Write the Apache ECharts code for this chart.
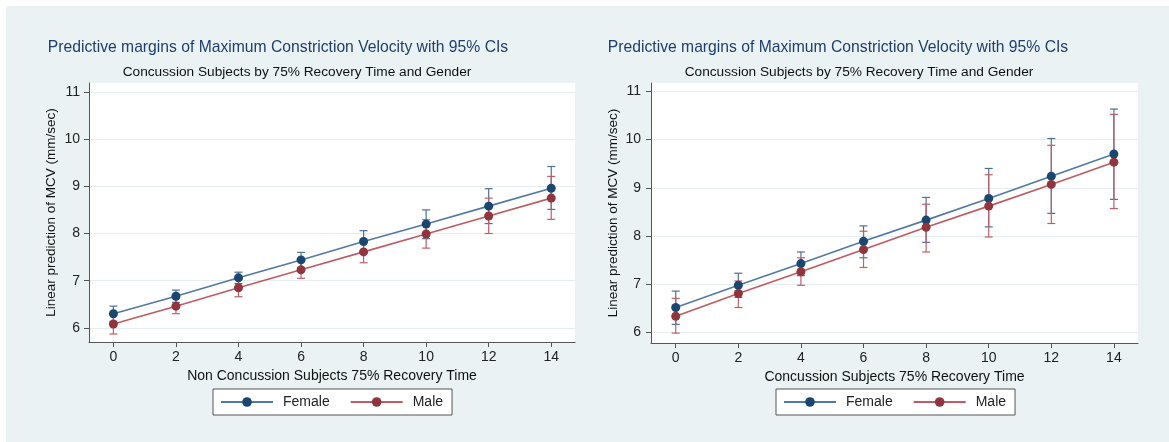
<!DOCTYPE html>
<html>
<head>
<meta charset="utf-8">
<script src="https://cdn.jsdelivr.net/npm/echarts@6/dist/echarts.min.js"></script>
<style>
  html, body { margin: 0; padding: 0; background: #fff; }
  #bg { position: absolute; left: 6px; top: 6px; width: 1163px; height: 436px; background: #eaf2f3; }
  #chart { position: absolute; left: 0; top: 0; width: 1169px; height: 442px; }
</style>
</head>
<body>
<div id="bg"></div>
<div id="chart"></div>
<script>
// recovery time (x) and tick labels
var recoveryTime = [0, 2, 4, 6, 8, 10, 12, 14];
var xTicks = [0, 2, 4, 6, 8, 10, 12, 14];
var yTicks = [6, 7, 8, 9, 10, 11];

// left panel: non concussion subjects
var nonConcFemale   = [6.30, 6.67, 7.06, 7.44, 7.83, 8.20, 8.58, 8.96];
var nonConcFemaleLo = [6.14, 6.54, 6.94, 7.28, 7.60, 7.89, 8.21, 8.51];
var nonConcFemaleHi = [6.46, 6.80, 7.18, 7.60, 8.06, 8.50, 8.95, 9.42];
var nonConcMale     = [6.08, 6.46, 6.85, 7.23, 7.61, 7.99, 8.37, 8.75];
var nonConcMaleLo   = [5.87, 6.30, 6.66, 7.05, 7.38, 7.69, 8.00, 8.30];
var nonConcMaleHi   = [6.29, 6.62, 7.03, 7.41, 7.84, 8.29, 8.75, 9.21];

// right panel: concussion subjects
var concFemale   = [6.52, 6.98, 7.43, 7.89, 8.33, 8.78, 9.24, 9.70];
var concFemaleLo = [6.17, 6.73, 7.18, 7.55, 7.87, 8.19, 8.47, 8.76];
var concFemaleHi = [6.86, 7.23, 7.67, 8.21, 8.80, 9.40, 10.02, 10.63];
var concMale     = [6.34, 6.81, 7.26, 7.72, 8.18, 8.62, 9.07, 9.53];
var concMaleLo   = [5.99, 6.52, 6.98, 7.35, 7.67, 7.98, 8.26, 8.57];
var concMaleHi   = [6.71, 7.07, 7.55, 8.10, 8.66, 9.27, 9.88, 10.52];

var FONT = "'Liberation Sans', Arial, sans-serif";
var navy = "#1a476f", maroon = "#90353b";

function pairs(ys) {
  return recoveryTime.map(function (x, i) { return [x, ys[i]]; });
}
function ciData(lo, hi) {
  return recoveryTime.map(function (x, i) { return [x, lo[i], hi[i]]; });
}

function errorBar(params, api) {
  var x = api.value(0);
  var lo = api.coord([x, api.value(1)]);
  var hi = api.coord([x, api.value(2)]);
  var w = 4;
  var style = { stroke: api.visual("color"), lineWidth: 1.2 };
  return {
    type: "group",
    children: [
      { type: "line", shape: { x1: lo[0], y1: lo[1], x2: hi[0], y2: hi[1] }, style: style },
      { type: "line", shape: { x1: lo[0] - w, y1: lo[1], x2: lo[0] + w, y2: lo[1] }, style: style },
      { type: "line", shape: { x1: hi[0] - w, y1: hi[1], x2: hi[0] + w, y2: hi[1] }, style: style }
    ]
  };
}

function xAxis(idx, min, max, name, gap) {
  return {
    type: "value", gridIndex: idx, min: min, max: max,
    name: name, nameLocation: "middle", nameGap: gap,
    nameTextStyle: { fontFamily: FONT, fontSize: 14, color: "#111" },
    axisLine: { show: true, onZero: false, lineStyle: { color: "#555", width: 1 } },
    axisTick: { show: true, length: 5, lineStyle: { color: "#555" }, customValues: xTicks },
    axisLabel: { fontFamily: FONT, fontSize: 14, color: "#222", margin: 8, customValues: xTicks },
    splitLine: { show: false }
  };
}
function yAxis(idx, min, max, margin) {
  return {
    type: "value", gridIndex: idx, min: min, max: max,
    name: "Linear prediction of MCV (mm/sec)", nameLocation: "middle", nameGap: 31, nameRotate: 90,
    nameTextStyle: { fontFamily: FONT, fontSize: 13.5, color: "#111" },
    axisLine: { show: true, onZero: false, lineStyle: { color: "#555", width: 1 } },
    axisTick: { show: true, length: 5, lineStyle: { color: "#555" }, customValues: yTicks },
    axisLabel: { fontFamily: FONT, fontSize: 14, color: "#222", margin: margin, customValues: yTicks },
    splitLine: { show: true, lineStyle: { color: "#e4edef", width: 1 } }
  };
}

function lineSeries(name, idx, ys, lineColor, dotColor) {
  return {
    name: name, type: "line", xAxisIndex: idx, yAxisIndex: idx,
    data: pairs(ys), symbol: "circle", symbolSize: 9, z: 3,
    lineStyle: { color: lineColor, width: 1.6 },
    itemStyle: { color: dotColor }
  };
}
function ciSeries(name, idx, lo, hi, color) {
  return {
    name: name, type: "custom", xAxisIndex: idx, yAxisIndex: idx,
    renderItem: errorBar, data: ciData(lo, hi), z: 2,
    encode: { x: 0, y: [1, 2] },
    itemStyle: { color: color }
  };
}

function title(x, y, text, size, color) {
  return {
    type: "text", x: x, y: y, silent: true,
    style: { text: text, fill: color, font: size + "px " + FONT, textAlign: "center", textVerticalAlign: "middle" }
  };
}

function legend(left) {
  return {
    data: ["Female", "Male"], left: left, top: 389, orient: "horizontal",
    backgroundColor: "#fff", borderColor: "#555", borderWidth: 1, borderRadius: 0,
    padding: [6, 9, 6, 7], itemWidth: 52, itemHeight: 12, itemGap: 20,
    selectedMode: false,
    textStyle: { fontFamily: FONT, fontSize: 14, color: "#222", padding: [0, 0, 0, 5] }
  };
}

var chart = echarts.init(document.getElementById("chart"));
chart.setOption({
  animation: false,
  backgroundColor: "transparent",
  graphic: [
    title(278, 48, "Predictive margins of Maximum Constriction Velocity with 95% CIs", 15.7, "#1e3f6e"),
    title(297, 72, "Concussion Subjects by 75% Recovery Time and Gender", 13.7, "#111"),
    title(838, 48, "Predictive margins of Maximum Constriction Velocity with 95% CIs", 15.7, "#1e3f6e"),
    title(859, 72, "Concussion Subjects by 75% Recovery Time and Gender", 13.7, "#111")
  ],
  legend: [legend(213), legend(776)],
  grid: [
    { left: 89, top: 83, width: 486, height: 259, show: true, backgroundColor: "#fff", borderWidth: 0 },
    { left: 651, top: 83, width: 487, height: 260, show: true, backgroundColor: "#fff", borderWidth: 0 }
  ],
  xAxis: [
    xAxis(0, -0.78, 14.76, "Non Concussion Subjects 75% Recovery Time", 24),
    xAxis(1, -0.79, 14.77, "Concussion Subjects 75% Recovery Time", 23)
  ],
  yAxis: [
    yAxis(0, 5.7, 11.19, 9),
    yAxis(1, 5.785, 11.17, 10)
  ],
  series: [
    ciSeries("Female CI", 0, nonConcFemaleLo, nonConcFemaleHi, "#4f6f95"),
    ciSeries("Male CI", 0, nonConcMaleLo, nonConcMaleHi, "#bf5f69"),
    lineSeries("Female", 0, nonConcFemale, "#5279a6", navy),
    lineSeries("Male", 0, nonConcMale, "#c05a64", maroon),
    ciSeries("Female CI", 1, concFemaleLo, concFemaleHi, "#4f6f95"),
    ciSeries("Male CI", 1, concMaleLo, concMaleHi, "#bf5f69"),
    lineSeries("Female", 1, concFemale, "#5279a6", navy),
    lineSeries("Male", 1, concMale, "#c05a64", maroon)
  ]
});
</script>
</body>
</html>
